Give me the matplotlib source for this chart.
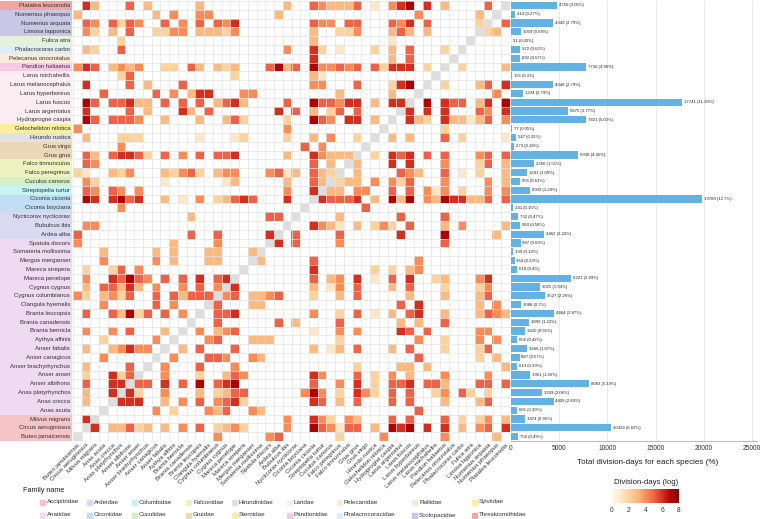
import numpy as np
import matplotlib.pyplot as plt
from matplotlib.colors import Normalize, ListedColormap
from matplotlib.patches import Rectangle
from matplotlib.cm import ScalarMappable

plt.rcParams['font.family'] = ['Liberation Sans', 'DejaVu Sans']

W, H = 760, 519

# species, top to bottom (columns use the reverse order)
species = [
    "Platalea leucorodia", "Numenius phaeopus", "Numenius arquata", "Limosa lapponica",
    "Fulica atra", "Phalacrocorax carbo", "Pelecanus onocrotalus", "Pandion haliaetus",
    "Larus michahellis", "Larus melanocephalus", "Larus hyperboreus", "Larus fuscus",
    "Larus argentatus", "Hydroprogne caspia", "Gelochelidon nilotica", "Hirundo rustica",
    "Grus virgo", "Grus grus", "Falco tinnunculus", "Falco peregrinus",
    "Cuculus canorus", "Streptopelia turtur", "Ciconia ciconia", "Ciconia boyciana",
    "Nycticorax nycticorax", "Bubulcus ibis", "Ardea alba", "Spatula discors",
    "Somateria mollissima", "Mergus merganser", "Mareca strepera", "Mareca penelope",
    "Cygnus cygnus", "Cygnus columbianus", "Clangula hyemalis", "Branta leucopsis",
    "Branta canadensis", "Branta bernicla", "Aythya affinis", "Anser fabalis",
    "Anser canagicus", "Anser brachyrhynchus", "Anser anser", "Anser albifrons",
    "Anas platyrhynchos", "Anas crecca", "Anas acuta", "Milvus migrans",
    "Circus aeruginosus", "Buteo jamaicensis",
]

families = (
    ["Threskiornithidae"] + ["Scolopacidae"] * 3 + ["Rallidae", "Phalacrocoracidae",
    "Pelecanidae", "Pandionidae"] + ["Laridae"] * 6 + ["Sternidae", "Hirundinidae"]
    + ["Gruidae"] * 2 + ["Falconidae"] * 2 + ["Cuculidae", "Columbidae"]
    + ["Ciconiidae"] * 2 + ["Ardeidae"] * 3 + ["Anatidae"] * 20 + ["Accipitridae"] * 3
)

# legend order (two rows, filled column by column)
family_names = [
    "Accipitridae", "Anatidae", "Ardeidae", "Ciconiidae", "Columbidae", "Cuculidae",
    "Falconidae", "Gruidae", "Hirundinidae", "Sternidae", "Laridae", "Pandionidae",
    "Pelecanidae", "Phalacrocoracidae", "Rallidae", "Scolopacidae", "Sylviidae",
    "Threskiornithidae",
]
family_colors = [
    "#F6C4C6", "#EEDAF1", "#D9D9F1", "#C2DEF5", "#C6F3F3", "#D6EFC6",
    "#EEF4C0", "#EAD8B6", "#E2E2E2", "#FBEE9F", "#FCEDF2", "#F9C8E3",
    "#FCEBDA", "#DDEEF7", "#E4F2DC", "#C9C6E6", "#FBF09E", "#F0A7A4",
]

# total division-days per species (same order as rows)
division_days = [
    4750, 414, 4349, 1059, 31, 972, 892, 7730, 155, 4348,
    1234, 17741, 5875, 7821, 77, 547, 273, 6938, 2356, 1691,
    955, 2003, 19780, 241, 732, 903, 3462, 987, 199, 364,
    618, 6221, 3025, 3527, 1088, 4464, 1899, 1410, 656, 1666,
    887, 613, 1961, 8083, 3209, 4409, 601, 1474, 10324, 756,
]

# log division-days read per cell ('.' = none), row = species, column = reversed species
cell_levels = [
    ".63...5.3." "....3....." "....3..543" "335.1.467." "6.3....5..",
    "3........3" ".4..44...." "...3......" ".........4" "......3...",
    ".54.5254.." "5.4.5.546." ".......544" ".55...546." "5.....2..5",
    ".42.3.5..2" "244.33324." ".......3.." "224...353." "3......33.",
    ".....2...." ".........." ".......3.." "......1..." "..........",
    ".32..5...." ".........." "....4..62." "1...2.3.5." "..2.......",
    ".........." ".........." ".......6.." "......3.5." "..........",
    "465.3434.." "22.53.323." "..5735.744" "545.52666." "2...3.3.44",
    ".....25..." "........2." ".......31." ".........." "..........",
    ".6....5.3." "..5......." ".......44." "..5...267." "..2....5.6",
    "...5.....5" ".4.366...4" "4........." "3.....3..." "......554.",
    ".75.55633." "5.5.5.3563" "....5..755" "466.3.66.7" ".655.564.7",
    ".6....5.3." "..63.5...." "...6.5.3.2" "5.5.....63" "6.6...5..6",
    ".75.5554.." "3...3..352" "....2..754" ".66.3..6.2" "..633235.3",
    "4........." ".........." "....4....." ".........." "..2.......",
    ".3...222.." "....1...12" "....2..3.4" "..2...3.3." "..5.2....1",
    ".....4...." ".........." "......5.4." ".........." "..........",
    ".53.56652." "5.4.5.556." "....3..643" "33....566." "5.5...55.5",
    ".54......." ".........." ".......5.3" "..4...6.6." "2.5...25.3",
    "21..324..." "32452.344." "..4513.532" "..3...5653" "..5.2..3.3",
    ".42......." "1......13." "....3..53." "224.4.425." "..4...3..4",
    ".54.54.4.." ".........." "....4..6.3" ".4....5.5." "32.3..4..4",
    ".76.6756.." "3.1.4.2356" "5...6...65" "467.3.748." "34766335.6",
    ".....4...." ".........." ".........." "...5......" "..........",
    ".........." "...3......" "..55.....3" "......4..." "..5.......",
    ".44......." ".........." ".......543" "2.3.2.2.5." "..3.3....4",
    "5........." "...5..5..." "..6..5...5" ".....3..6." "..6.....3.",
    "4........." ".3....4..." "...6.4...4" ".........." "..4.......",
    "...3.....3" ".3...33..." "3........." ".........4" "..........",
    "...4.....4" ".3...33..." ".3........" ".........4" "..........",
    ".2..25.4.." ".........." ".......4.." ".....2.2.." "..3.......",
    ".4..65754." "5.5.6.56.." ".......5.2" "4.6..4.45." "3.3...46.4",
    ".3.55363.4" "..4.5.4.6." ".......4.2" "4.5...4.5." "..4...454.",
    "42.3425..5" ".53555.45." "3345...2.." "4.4....535" "..3...454.",
    "...4.....5" ".4....5..." "44........" ".........5" "......3.4.",
    ".5..53725." "5.4...567." ".......5.." "3.6.1.345." "..3...45.4",
    ".........." "......5..." "...6.2...." "5.......6." "3.5.......",
    ".4..4.5..." "3...5.455." ".......1.." "4.4.....5." "4.....54..",
    "...2.....4" ".....45..." "333......." "2........5" "..2...3.4.",
    ".3..34644." "..3.5..55." ".......3.2" "3.5...3.5." "..2...25..",
    "...4......" ".4...55..." "42........" ".........5" "......3...",
    ".3....5..." "3...5..33." ".........." "..3....33." "3........3",
    ".2..625..." "3...2..444" ".......64." "..61..4.3." "..4....4..",
    ".5..66.55." "6.5.7.667." ".......6.2" "4.62..456." "4.4...56.5",
    ".3..6.52.." "3...2.2456" ".....4.64." "2.642.4.4." "4.4.52.2..",
    ".3...566.." "3.4.5.4572" ".......65." "4.5...4.4." "2.4...35..",
    ".........4" "..2..445.." "43........" ".........5" "..........",
    ".6........" ".........." "....4..542" ".43...4.5." "..4..2.253",
    "..6.33533." "3.3.4.2452" ".......754" "155.2.767." "6.6.2.46.6",
    ".........." "......5..." "..56......" "2....4...." "..4.....4.",
]


def box(x0, y0, x1, y1):
    # pixel box (origin top-left) -> figure fraction rect
    return [x0 / W, 1 - y1 / H, (x1 - x0) / W, (y1 - y0) / H]


n = len(species)
raw = np.full((n, n), np.nan)
for i, row in enumerate(cell_levels):
    for j, ch in enumerate(row):
        if ch != '.':
            raw[i, j] = float(ch)
# pair matrix is symmetric about the anti-diagonal: keep the upper-left
# half as read and mirror it onto the other half
vals = np.full((n, n), np.nan)
diag = np.full((n, n), np.nan)
for i in range(n):
    for j in range(n):
        if i + j < n - 1:
            vals[i, j] = raw[i, j]
        elif i + j > n - 1:
            vals[i, j] = raw[n - 1 - j, n - 1 - i]
        else:
            diag[i, j] = 1

fam_color = dict(zip(family_names, family_colors))
cmap = plt.get_cmap('OrRd').copy()
cmap.set_bad('white')
norm = Normalize(0, 8)

fig = plt.figure(figsize=(W / 100, H / 100), dpi=100)

# row labels with family colour blocks
ax_l = fig.add_axes(box(0, 1, 72, 441))
ax_l.set_xlim(0, 1)
ax_l.set_ylim(n - 0.5, -0.5)
for i, (sp, fam) in enumerate(zip(species, families)):
    ax_l.add_patch(Rectangle((0, i - 0.5), 1, 1, color=fam_color[fam], lw=0))
    ax_l.text(0.975, i, sp, ha='right', va='center', fontsize=4.3, color='#333333')
ax_l.axis('off')

# heatmap
ax_h = fig.add_axes(box(73, 1, 510, 441))
ax_h.imshow(vals, cmap=cmap, norm=norm, aspect='auto', interpolation='nearest')
ax_h.imshow(np.ma.masked_invalid(diag), cmap=ListedColormap(['#DEDEDE']),
            aspect='auto', interpolation='nearest')
ax_h.set_xticks(range(n))
ax_h.set_xticklabels(species[::-1], rotation=45, ha='right', va='top',
                     rotation_mode='anchor', fontsize=4.3, color='#333333')
ax_h.set_yticks([])
ax_h.set_xticks(np.arange(-0.5, n), minor=True)
ax_h.set_yticks(np.arange(-0.5, n), minor=True)
ax_h.grid(which='minor', color='#E4E4E4', lw=0.5)
ax_h.tick_params(which='both', length=0, pad=1)
for s in ax_h.spines.values():
    s.set_visible(False)

# total division-days bars
ax_b = fig.add_axes(box(511, 1, 757, 441))
ax_b.barh(range(n), division_days, height=0.82, color='#62B2E4', zorder=2)
ax_b.set_ylim(n - 0.5, -0.5)
ax_b.set_xlim(0, 25500)
ax_b.set_xticks([0, 5000, 10000, 15000, 20000, 25000])
ax_b.set_yticks([])
ax_b.grid(axis='x', color='#E6E6E6', lw=0.6, zorder=0)
ax_b.tick_params(axis='x', length=0, labelsize=4.8, labelcolor='#333333', pad=3)
for s in ['top', 'right', 'left']:
    ax_b.spines[s].set_visible(False)
ax_b.spines['bottom'].set_color('#BBBBBB')
total = sum(division_days)
for i, v in enumerate(division_days):
    pct = ('%.2f' % (v / total * 100)).rstrip('0').rstrip('.')
    ax_b.text(v + 200, i, f"{v} ({pct}%)", va='center', fontsize=3.1, color='#222222')

fig.text(648 / W, 1 - 463 / H, "Total division-days for each species (%)",
         ha='center', va='center', fontsize=5.8, color='#222222')

# colour bar
fig.text(646 / W, 1 - 482 / H, "Division-days (log)", ha='center', va='center',
         fontsize=5.6, color='#222222')
cax = fig.add_axes(box(612, 489, 679, 503))
cb = fig.colorbar(ScalarMappable(norm=norm, cmap='OrRd'), cax=cax,
                  orientation='horizontal', ticks=[0, 2, 4, 6, 8])
cb.outline.set_visible(False)
cax.tick_params(labelsize=4.8, length=2, color='white', labelcolor='#333333', pad=1)

# family legend
fig.text(23 / W, 1 - 491 / H, "Family name", ha='left', va='center', fontsize=5.2,
         color='#222222')
legend_x = [40, 87, 132, 186, 232, 287, 337, 412, 472]
for k, (fam, col) in enumerate(zip(family_names, family_colors)):
    x = legend_x[k // 2]
    y = 502 if k % 2 == 0 else 515
    fig.patches.append(Rectangle((x / W, 1 - (y + 2.5) / H), 5 / W, 5 / H, color=col,
                                 transform=fig.transFigure, figure=fig))
    fig.text((x + 7) / W, 1 - y / H, fam, ha='left', va='center', fontsize=4.5,
             color='#333333')

plt.savefig('out.png', dpi=100)
